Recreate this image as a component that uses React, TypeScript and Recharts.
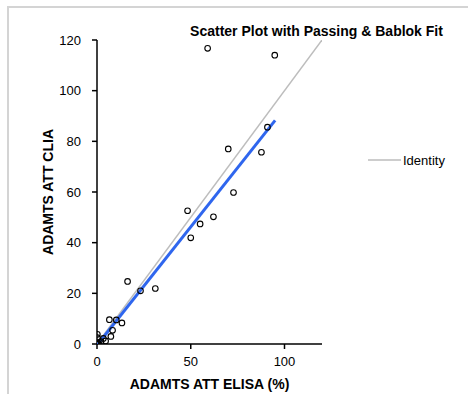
import React from "react";
import {
  ScatterChart,
  Scatter,
  XAxis,
  YAxis,
  Label,
  Legend,
} from "recharts";

const elisaValues = [
  59.0, 94.8, 90.9, 70.0, 87.7, 72.8, 48.3, 62.1, 55.0, 50.0, 16.3, 23.2, 31.1,
  6.6, 10.3, 13.3, 8.3, 7.4, 4.6, 0.2, 0.2, 2.1, 3.4, 0.0, 0.5, 1.0, 0.3,
];
const cliaValues = [
  116.7, 114.0, 85.6, 77.0, 75.7, 59.8, 52.6, 50.2, 47.4, 41.9, 24.7, 21.0, 21.9,
  9.6, 9.5, 8.3, 5.4, 3.0, 1.2, 3.8, 2.5, 0.9, 2.2, 0.0, 0.3, 0.1, 0.6,
];

// identity line and Passing & Bablok fit end points
const identityX = [0, 120];
const identityY = [0, 120];
const fitX = [0, 95];
const fitY = [-0.5, 88.3];

const xTicks = [0, 50, 100];
const yTicks = [0, 20, 40, 60, 80, 100, 120];

const points = elisaValues.map((x, i) => ({ x, y: cliaValues[i] }));
const identity = identityX.map((x, i) => ({ x, y: identityY[i] }));
const fit = fitX.map((x, i) => ({ x, y: fitY[i] }));

const FONT = '"Liberation Sans", Arial, sans-serif';

function LegendContent() {
  return (
    <svg width={90} height={20} style={{ display: "block" }}>
      <line x1={0} y1={9} x2={33} y2={9} stroke="#bdbdbd" strokeWidth={1.5} />
      <text x={35} y={13.5} fontSize={13} fontFamily={FONT} fill="#000">
        Identity
      </text>
    </svg>
  );
}

const noShape = () => <g />;

export default function App() {
  return (
    <div style={{ position: "absolute", left: 0, top: 0, width: 468, height: 394, overflow: "hidden", background: "#fff" }}>
      <div
        style={{
          position: "absolute",
          left: 7,
          top: 6,
          width: 470,
          height: 400,
          borderTop: "2px solid #d4d4d4",
          borderLeft: "2px solid #d4d4d4",
        }}
      />
      <svg style={{ position: "absolute", left: 0, top: 0 }} width={468} height={394}>
        <text
          x={316.5}
          y={35.5}
          textAnchor="middle"
          fontSize={14}
          fontWeight="bold"
          fontFamily={FONT}
          fill="#000"
        >
          Scatter Plot with Passing &amp; Bablok Fit
        </text>
      </svg>
      <div style={{ position: "absolute", left: 0, top: 0 }}>
        <ScatterChart
          width={468}
          height={394}
          margin={{ top: 40, right: 56, bottom: 0, left: 0 }}
          style={{ fontFamily: FONT }}
        >
          <XAxis
            type="number"
            dataKey="x"
            domain={[0, 120]}
            ticks={xTicks}
            height={50}
            tickSize={5}
            tickMargin={8}
            allowDataOverflow
            stroke="#000"
            strokeWidth={1.5}
            tick={{ fill: "#000", fontSize: 13 }}
          >
            <Label
              value="ADAMTS ATT ELISA (%)"
              position="insideBottom"
              offset={5}
              fill="#000"
              fontSize={14}
              fontWeight="bold"
            />
          </XAxis>
          <YAxis
            type="number"
            dataKey="y"
            domain={[0, 120]}
            ticks={yTicks}
            width={97}
            tickSize={5}
            tickMargin={11}
            allowDataOverflow
            stroke="#000"
            strokeWidth={1.5}
            tick={{ fill: "#000", fontSize: 13 }}
          >
            <Label
              value="ADAMTS ATT CLIA"
              angle={-90}
              position="center"
              fill="#000"
              fontSize={14}
              fontWeight="bold"
            />
          </YAxis>
          <Legend
            layout="vertical"
            verticalAlign="top"
            align="right"
            content={<LegendContent />}
            wrapperStyle={{ left: 368, top: 151, width: 90, height: 20 }}
          />
          <Scatter
            name="Identity"
            data={identity}
            line={{ stroke: "#bdbdbd", strokeWidth: 1.5 }}
            shape={noShape}
            isAnimationActive={false}
          />
          <Scatter
            name="Passing & Bablok"
            data={fit}
            line={{ stroke: "#2f66ee", strokeWidth: 3 }}
            shape={noShape}
            legendType="none"
            isAnimationActive={false}
          />
          <Scatter
            name="Data"
            data={points}
            legendType="none"
            isAnimationActive={false}
            shape={(p: any) => (
              <circle cx={p.cx} cy={p.cy} r={2.8} fill="none" stroke="#000" strokeWidth={1.1} />
            )}
          />
        </ScatterChart>
      </div>
    </div>
  );
}
